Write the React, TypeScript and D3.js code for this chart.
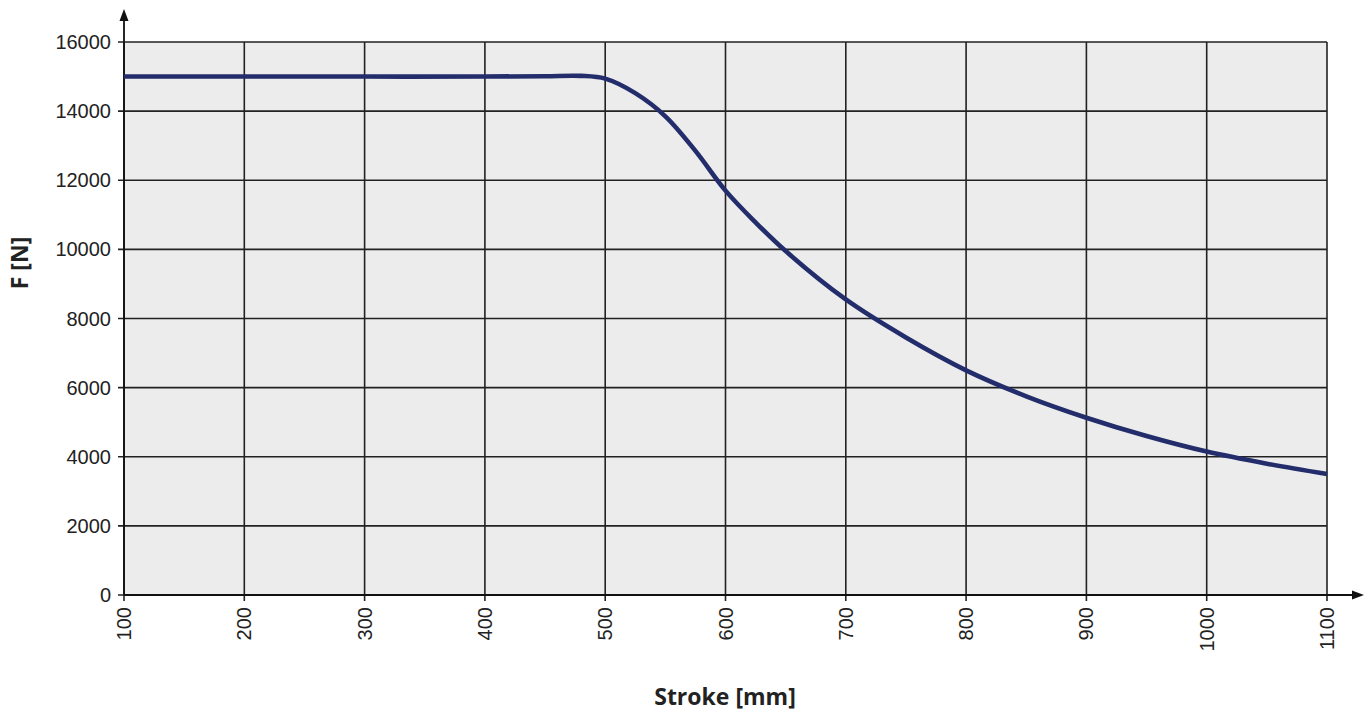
import * as d3 from "d3";

const width = 1372;
const height = 711;
const margin = { top: 42, right: 45, bottom: 116, left: 124 };

// stroke [mm] vs force [N]
const strokeValues = [100, 200, 300, 400, 450, 480, 500, 525, 550, 575, 600, 625, 650, 700, 750, 800, 850, 900, 950, 1000, 1050, 1100];
const forceValues = [15000, 15000, 15000, 15000, 15010, 15020, 14940, 14520, 13850, 12850, 11700, 10780, 9950, 8550, 7450, 6500, 5750, 5130, 4600, 4150, 3800, 3500];

const xTicks = [100, 200, 300, 400, 500, 600, 700, 800, 900, 1000, 1100];
const yTicks = [0, 2000, 4000, 6000, 8000, 10000, 12000, 14000, 16000];

const App = () => {
  const x = d3.scaleLinear().domain([100, 1100]).range([margin.left, width - margin.right]);
  const y = d3.scaleLinear().domain([0, 16000]).range([height - margin.bottom, margin.top]);

  const points = strokeValues.map((s, i) => [s, forceValues[i]] as [number, number]);
  const line = d3
    .line<[number, number]>()
    .x((d) => x(d[0]))
    .y((d) => y(d[1]))
    .curve(d3.curveCatmullRom.alpha(0.5));

  const x0 = x(100);
  const x1 = x(1100);
  const y0 = y(0);
  const y1 = y(16000);
  const tickFont = "'Liberation Sans', Arial, sans-serif";
  const gridColor = "#222";

  return (
    <svg width={width} height={height} style={{ position: "absolute", left: 0, top: 0 }}>
      <rect x={x0} y={y1} width={x1 - x0} height={y0 - y1} fill="#ececec" />

      {/* grid */}
      {xTicks.map((t) => (
        <line key={"gx" + t} x1={x(t)} x2={x(t)} y1={y1} y2={y0 + 6} stroke={gridColor} strokeWidth={1.6} />
      ))}
      {yTicks.map((t) => (
        <line key={"gy" + t} x1={x0 - 6} x2={x1} y1={y(t)} y2={y(t)} stroke={gridColor} strokeWidth={1.6} />
      ))}

      {/* axes with arrows */}
      <line x1={x0} x2={x0} y1={y0} y2={20} stroke="#111" strokeWidth={1.8} />
      <path d={`M${x0},9 L${x0 - 4.5},21 L${x0 + 4.5},21 Z`} fill="#111" />
      <line x1={x0} x2={1352} y1={y0} y2={y0} stroke="#111" strokeWidth={1.8} />
      <path d={`M1364,${y0} L1352,${y0 - 4.5} L1352,${y0 + 4.5} Z`} fill="#111" />

      {/* curve */}
      <path d={line(points) ?? ""} fill="none" stroke="#232d6b" strokeWidth={4.6} strokeLinecap="butt" />

      {/* tick labels */}
      {yTicks.map((t) => (
        <text key={"ly" + t} x={x0 - 13} y={y(t)} dy="0.35em" textAnchor="end" fontFamily={tickFont} fontSize={20} fill="#222">
          {t}
        </text>
      ))}
      {xTicks.map((t) => (
        <text
          key={"lx" + t}
          transform={`translate(${x(t)},${y0 + 12}) rotate(-90)`}
          dy="0.35em"
          textAnchor="end"
          fontFamily={tickFont}
          fontSize={20}
          fill="#222"
        >
          {t}
        </text>
      ))}

      {/* axis titles */}
      <text
        transform={`translate(20,263) rotate(-90)`}
        dy="0.35em"
        textAnchor="middle"
        fontFamily="'Open Sans', sans-serif"
        fontWeight="bold"
        fontSize={23}
        fill="#222"
      >
        F [N]
      </text>
      <text x={725} y={705} textAnchor="middle" fontFamily="'Open Sans', sans-serif" fontWeight="bold" fontSize={23} fill="#222">
        Stroke [mm]
      </text>
    </svg>
  );
};

export default App;
